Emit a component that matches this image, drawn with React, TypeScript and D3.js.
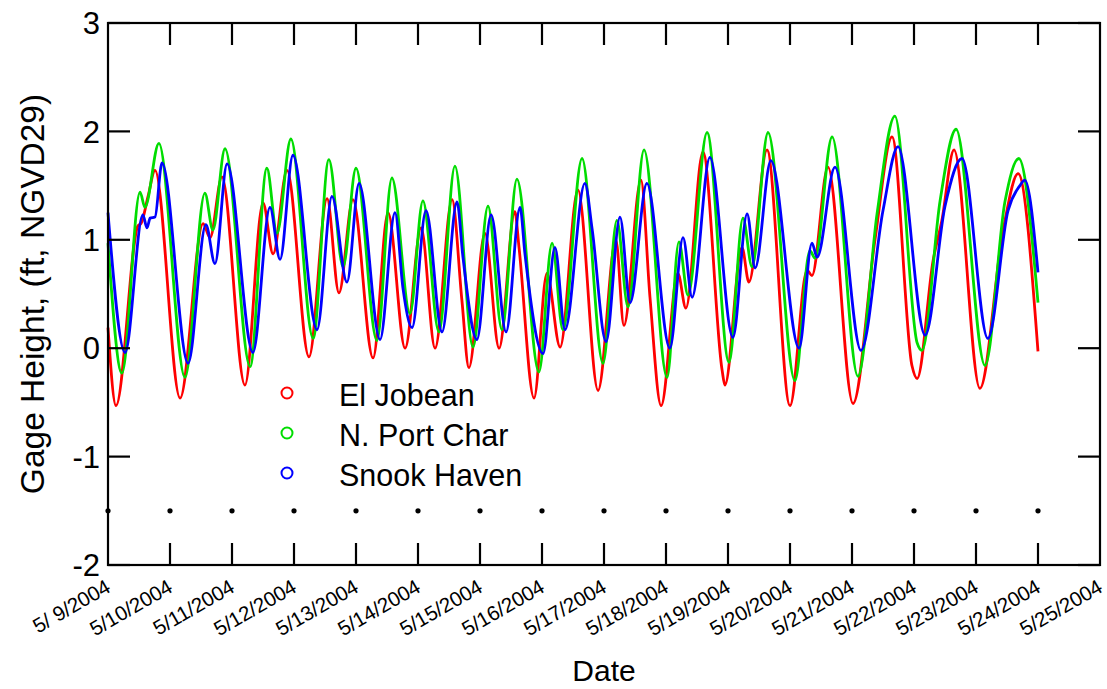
import React from "react";
import * as d3 from "d3";

// ---- data (hours since 5/9/2004 00:00, gage height ft NGVD29) ----
const elJobeanHours = [0, 3.1, 11.6, 12.8, 15.5, 18.2, 27.9, 36.8, 39.5, 44.1, 53.0, 60.0, 63.9, 69.3, 77.8, 84.8, 89.4, 94.8, 102.6, 108.4, 115.0, 121.2, 126.6, 133.2, 137.0, 139.7, 145.9, 151.4, 157.5, 159.1, 164.9, 169.9, 175.0, 181.9, 189.7, 196.6, 199.7, 206.3, 209.8, 214.1, 220.6, 223.7, 230.3, 237.7, 238.8, 245.4, 248.1, 255.1, 264.0, 270.6, 272.5, 278.7, 288.4, 296.9, 303.5, 311.2, 313.2, 319.4, 322.8, 327.5, 337.5, 346.5, 352.3, 360.0];
const elJobeanValues = [0.19, -0.53, 1.13, 1.15, 1.4, 1.64, -0.46, 1.15, 1.02, 1.58, -0.34, 1.34, 0.87, 1.64, -0.08, 1.38, 0.51, 1.37, -0.09, 1.25, 0.0, 1.11, 0.0, 1.37, 0.44, -0.18, 1.06, 0.0, 1.26, 0.93, -0.46, 0.69, 0.01, 1.46, -0.39, 1.0, 0.21, 1.55, 0.47, -0.53, 0.69, 0.37, 1.81, -0.2, -0.34, 0.93, 0.61, 1.83, -0.53, 0.72, 0.67, 1.67, -0.51, 1.0, 1.95, -0.16, -0.28, 0.81, 1.18, 1.83, -0.37, 1.09, 1.61, -0.03];

const portCharHours = [0, 5.4, 12.4, 14.3, 19.7, 29.8, 37.5, 40.6, 45.3, 55.0, 61.5, 65.4, 70.8, 79.4, 85.5, 91.0, 96.0, 104.1, 109.9, 116.9, 121.9, 128.1, 134.3, 141.3, 147.1, 152.5, 158.3, 166.8, 171.9, 176.1, 183.5, 191.6, 197.0, 201.3, 207.5, 216.4, 221.0, 224.5, 231.9, 240.4, 245.8, 249.3, 255.5, 265.9, 271.7, 273.7, 280.3, 290.3, 297.7, 304.6, 313.2, 315.1, 322.1, 328.3, 339.5, 347.2, 352.6, 360.0];
const portCharValues = [0.97, -0.23, 1.44, 1.30, 1.89, -0.27, 1.43, 1.09, 1.84, -0.17, 1.66, 1.06, 1.93, 0.09, 1.74, 0.75, 1.66, 0.07, 1.57, 0.32, 1.36, 0.15, 1.68, 0.01, 1.31, 0.17, 1.56, -0.22, 0.97, 0.17, 1.75, -0.14, 1.18, 0.38, 1.83, -0.27, 0.98, 0.49, 1.99, -0.13, 1.20, 0.75, 1.99, -0.30, 0.9, 0.83, 1.95, -0.26, 1.24, 2.14, 0.05, -0.02, 1.36, 2.02, -0.16, 1.35, 1.75, 0.42];

const snookHours = [0, 6.6, 13.5, 15.1, 16.3, 18.2, 20.9, 31.0, 37.9, 41.4, 46.1, 56.1, 62.7, 66.6, 71.6, 80.9, 86.7, 92.5, 97.2, 105.3, 111.1, 114.2, 117.7, 123.1, 129.3, 135.1, 137.4, 142.8, 148.3, 154.1, 159.5, 161.4, 168.4, 173.0, 176.9, 184.6, 187.4, 192.8, 198.2, 202.1, 208.6, 217.5, 222.6, 226.1, 233.0, 241.9, 247.4, 250.5, 256.6, 267.5, 272.5, 274.5, 281.4, 291.5, 300.0, 305.8, 316.3, 324.0, 330.6, 340.6, 348.4, 353.0, 354.9, 360.0];
const snookValues = [1.25, -0.04, 1.23, 1.11, 1.20, 1.21, 1.71, -0.14, 1.14, 0.78, 1.70, -0.04, 1.30, 0.82, 1.78, 0.17, 1.40, 0.61, 1.52, 0.08, 1.25, 0.55, 0.19, 1.27, 0.15, 1.35, 0.84, 0.08, 1.23, 0.15, 1.30, 0.87, -0.05, 0.93, 0.17, 1.52, 1.1, 0.06, 1.21, 0.42, 1.52, 0.0, 1.02, 0.47, 1.76, 0.10, 1.24, 0.74, 1.73, 0.0, 0.97, 0.84, 1.67, -0.02, 1.27, 1.86, 0.12, 1.31, 1.75, 0.09, 1.27, 1.50, 1.55, 0.70];

const seriesNames = ["El Jobean", "N. Port Char", "Snook Haven"];
const seriesColors = ["#ff0000", "#00dd00", "#0000ff"];
const yTicks = [-2, -1, 0, 1, 2, 3];
const markerLevel = -1.5;
const xAxisTitle = "Date";
const yAxisTitle = "Gage Height, (ft, NGVD29)";

const start = new Date(2004, 4, 9);
const end = new Date(2004, 4, 25);
const toDate = (h: number) => new Date(start.getTime() + h * 3600e3);

const W = 1107, H = 689;
const L = 108, R = 1100, T = 23, B = 565;
const FONT = "'Liberation Sans', Arial, Helvetica, sans-serif";

export default function App() {
  const x = d3.scaleTime().domain([start, end]).range([L, R]);
  const y = d3.scaleLinear().domain([-2, 3]).range([B, T]);
  const days = d3.timeDay.range(start, d3.timeDay.offset(end, 1));
  const fmt = (d: Date) => {
    const day = d.getDate();
    return `${d.getMonth() + 1}/${day < 10 ? " " + day : day}/${d.getFullYear()}`;
  };
  const line = d3
    .line<[Date, number]>()
    .x((p) => x(p[0]))
    .y((p) => y(p[1]))
    .curve(d3.curveMonotoneX);
  const series = [
    { h: elJobeanHours, v: elJobeanValues },
    { h: portCharHours, v: portCharValues },
    { h: snookHours, v: snookValues },
  ];
  const markerDays = days.filter((d) => d < end);
  const inner = days.filter((d) => d > start && d < end);
  const tickLen = 22;

  return (
    <svg width={W} height={H} style={{ position: "absolute", left: 0, top: 0, background: "#fff" }} fontFamily={FONT}>
      {/* series */}
      {series.map((s, i) => (
        <path
          key={i}
          d={line(s.h.map((h, j) => [toDate(h), s.v[j]] as [Date, number])) || ""}
          fill="none"
          stroke={seriesColors[i]}
          strokeWidth={2.8}
          strokeLinejoin="round"
        />
      ))}
      {/* dots */}
      {markerDays.map((d, i) => (
        <circle key={i} cx={x(d)} cy={y(markerLevel)} r={2.6} fill="#000" />
      ))}
      {/* frame */}
      <rect x={L} y={T} width={R - L} height={B - T} fill="none" stroke="#000" strokeWidth={2.2} />
      {inner.map((d, i) => (
        <g key={i} stroke="#000" strokeWidth={2.2}>
          <line x1={x(d)} x2={x(d)} y1={B} y2={B - tickLen} />
          <line x1={x(d)} x2={x(d)} y1={T} y2={T + tickLen} />
        </g>
      ))}
      {yTicks.map((t) => (
        <g key={t} stroke="#000" strokeWidth={2.2}>
          <line x1={L} x2={L + tickLen} y1={y(t)} y2={y(t)} />
          <line x1={R} x2={R - tickLen} y1={y(t)} y2={y(t)} />
        </g>
      ))}
      {/* y tick labels */}
      {yTicks.map((t) => (
        <text key={t} x={100} y={y(t)} dy="0.36em" textAnchor="end" fontSize={31} fill="#000">
          {t}
        </text>
      ))}
      {/* x tick labels */}
      {days.map((d, i) => (
        <text
          key={i}
          transform={`translate(${x(d) + 4},${591}) rotate(-30)`}
          textAnchor="end"
          fontSize={20.5}
          fill="#000"
          style={{ whiteSpace: "pre" }}
        >
          {fmt(d)}
        </text>
      ))}
      {/* axis titles */}
      <text x={(L + R) / 2} y={681} textAnchor="middle" fontSize={30} fill="#000">
        {xAxisTitle}
      </text>
      <text transform={`translate(44,${(T + B) / 2}) rotate(-90)`} textAnchor="middle" fontSize={33.5} fill="#000" style={{ whiteSpace: "pre" }}>
        {yAxisTitle}
      </text>
      {/* legend */}
      {seriesNames.map((n, i) => (
        <g key={n}>
          <circle cx={287} cy={393 + i * 40} r={5.5} fill="none" stroke={seriesColors[i]} strokeWidth={2} />
          <text x={339} y={406 + i * 40} fontSize={30.5} fill="#000">
            {n}
          </text>
        </g>
      ))}
    </svg>
  );
}
